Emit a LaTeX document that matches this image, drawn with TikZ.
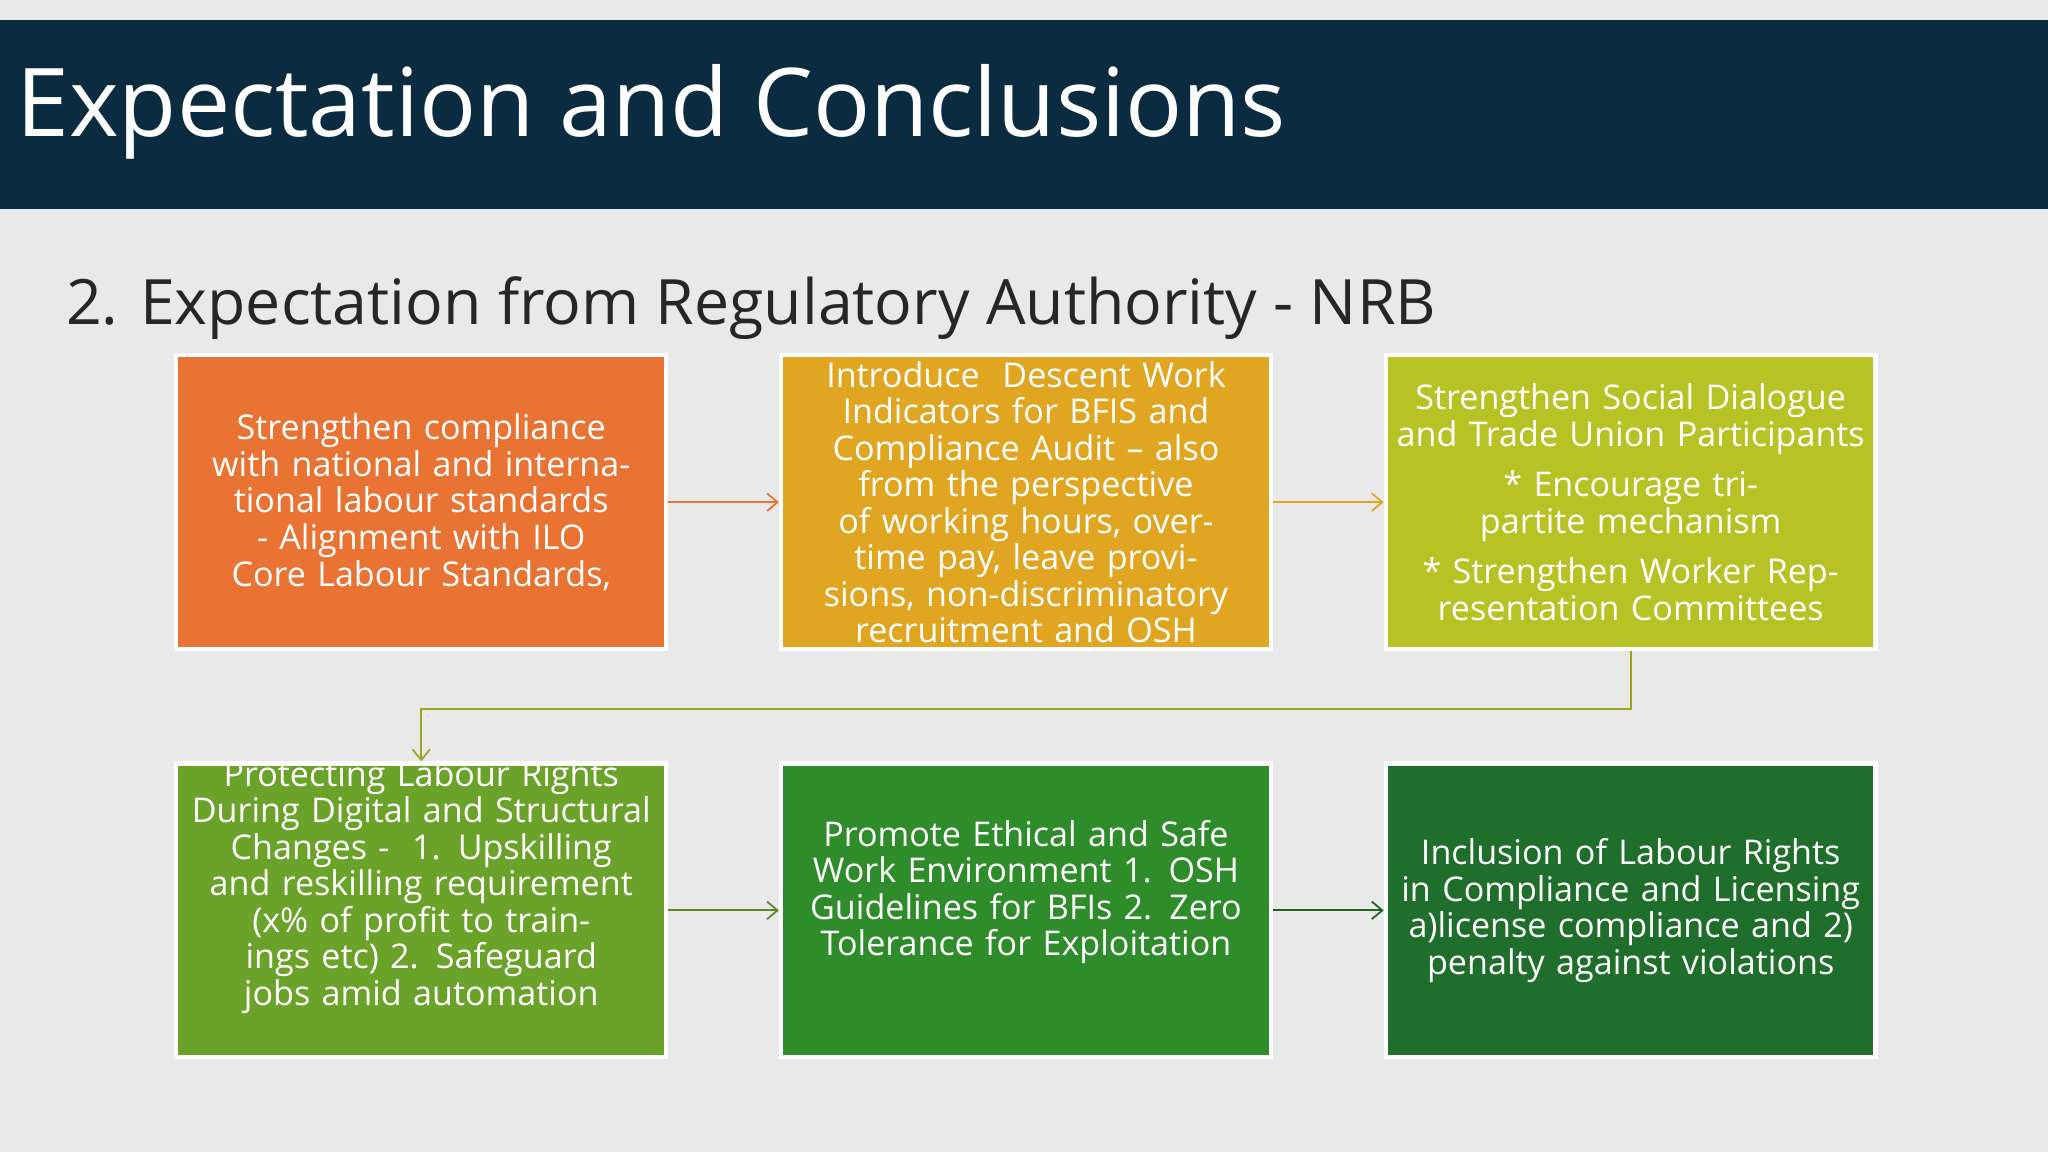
\documentclass[tikz,border=0pt]{standalone}
\usepackage{fontspec}
\setmainfont{Open Sans}
\usetikzlibrary{arrows.meta}
\definecolor{navy}{HTML}{0B2C40}
\definecolor{bg}{HTML}{E9E9E9}
\definecolor{cA}{HTML}{E87332}
\definecolor{cB}{HTML}{E0A622}
\definecolor{cC}{HTML}{B7C224}
\definecolor{cD}{HTML}{6BA32A}
\definecolor{cE}{HTML}{2F8C2A}
\definecolor{cF}{HTML}{1F6E2B}
\tikzset{
  box/.style={draw=white, line width=1.2pt, minimum width=4.898cm, minimum height=2.939cm, inner sep=0pt},
  txt/.style={text=white, align=center, text width=4.7cm, font=\fontsize{9.7}{10.4}\selectfont, inner sep=0pt},
  conn/.style={line width=0.5pt, -{Straight Barb[length=3pt,width=5pt]}}
}
\begin{document}
\begin{tikzpicture}[x=0.013061cm,y=-0.013061cm]
\fill[bg] (0,0) rectangle (1568,882);
\useasboundingbox (0,0) rectangle (1568,882);
\fill[navy] (0,15) rectangle (1568,160);
\node[anchor=west, text=white, font=\fontsize{27}{30}\selectfont, inner sep=0pt] (title) at (12,86) {Expectation and Conclusions};
\node[anchor=west, text=black!85, font=\fontsize{17.8}{20}\selectfont, inner sep=0pt] (sub) at (50,236) {2. Expectation from Regulatory Authority - NRB};

\node[box, fill=cA] (b1) at (322.5,384.5) {};
\node[box, fill=cB] (b2) at (785.5,384.5) {};
\node[box, fill=cC] (b3) at (1248.5,384.5) {};
\node[box, fill=cD] (b4) at (322.5,697) {};
\node[box, fill=cE] (b5) at (785.5,697) {};
\node[box, fill=cF] (b6) at (1248.5,697) {};

\node[txt] at (322.5,384.5) {Strengthen compliance with national and international labour standards\ \ - Alignment with ILO Core Labour Standards,};
\node[txt] at (785.5,384.5) {Introduce\ \ Descent Work Indicators for BFIS and Compliance Audit – also from the perspective of working hours, overtime pay, leave provisions, non-discriminatory recruitment and OSH};
\node[txt] at (1248.5,384.5) {Strengthen Social Dialogue and Trade Union Participants\\[4pt] * Encourage tripartite mechanism\\[4pt] * Strengthen Worker Representation Committees};
\node[txt] at (322.5,679) {Protecting Labour Rights During Digital and Structural Changes -\ \ 1. Upskilling and reskilling requirement (x\% of profit to trainings etc) 2. Safeguard jobs amid automation};
\node[txt] at (785.5,683) {Promote Ethical and Safe Work Environment 1. OSH Guidelines for BFIs 2. Zero Tolerance for Exploitation};
\node[txt] at (1248.5,697) {Inclusion of Labour Rights in Compliance and Licensing a)license compliance and 2) penalty against violations};

\draw[conn, cA] (b1.east) -- (b2.west);
\draw[conn, cB] (b2.east) -- (b3.west);
\draw[conn, cC!85!black] (b3.south) -- ++(0,44) -| (b4.north);
\draw[conn, cD!85!black] (b4.east) -- (b5.west);
\draw[conn, cE!70!black] (b5.east) -- (b6.west);
\end{tikzpicture}
\end{document}
